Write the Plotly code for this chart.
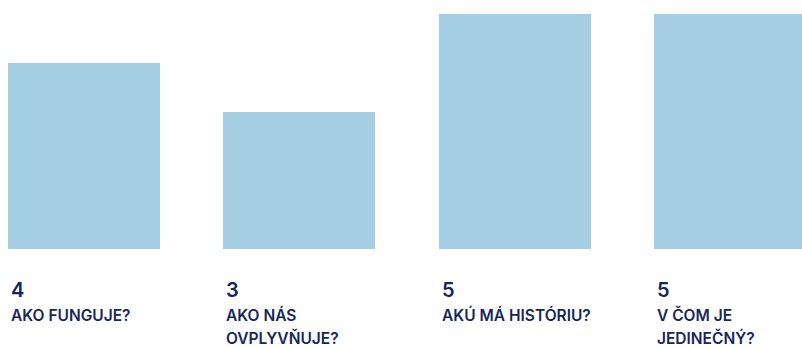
import plotly.graph_objects as go

# Topics and their scores
topics = ["AKO FUNGUJE?", "AKO NÁS<br>OVPLYVŇUJE?", "AKÚ MÁ HISTÓRIU?", "V ČOM JE<br>JEDINEČNÝ?"]
scores = [4, 3, 5, 5]

BAR_COLOR = "#a6cee2"
TEXT_COLOR = "#172659"
FONT = "Inter"

cats = [f"c{i}" for i in range(len(topics))]

fig = go.Figure(
    go.Bar(
        x=cats,
        y=scores,
        width=0.706,
        marker=dict(color=BAR_COLOR, line=dict(width=0)),
        hoverinfo="skip",
    )
)

annotations = []
for cat, score, topic in zip(cats, scores, topics):
    # score value under the bar
    annotations.append(dict(
        x=cat, xref="x", y=0, yref="paper",
        xanchor="left", yanchor="middle",
        xshift=-75, yshift=-41,
        text=str(score), showarrow=False,
        font=dict(family=FONT, size=20, color=TEXT_COLOR, weight=600),
    ))
    # topic label, one annotation per line
    for k, line in enumerate(topic.split("<br>")):
        annotations.append(dict(
            x=cat, xref="x", y=0, yref="paper",
            xanchor="left", yanchor="middle",
            xshift=-75, yshift=-66 - 23 * k,
            text=line, showarrow=False,
            font=dict(family=FONT, size=15.5, color=TEXT_COLOR, weight=600),
        ))

fig.update_layout(
    width=802, height=347,
    margin=dict(l=0, r=0, t=14, b=98),
    paper_bgcolor="white", plot_bgcolor="white",
    showlegend=False,
    bargap=0,
    xaxis=dict(range=[-0.390, 3.334], visible=False, fixedrange=True),
    yaxis=dict(range=[0.204, 5], visible=False, fixedrange=True),
    annotations=annotations,
)

fig.write_html("out.html", config={"displayModeBar": False})
